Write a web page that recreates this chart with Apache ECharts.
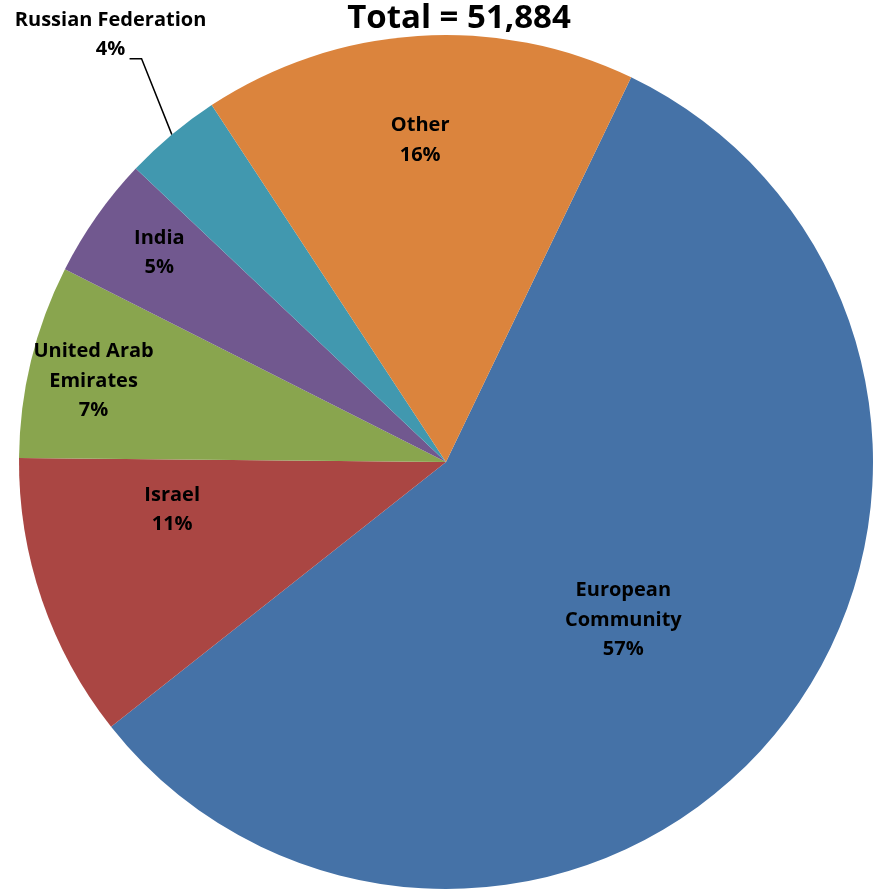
<!DOCTYPE html>
<html>
<head>
<meta charset="utf-8">
<script src="https://cdn.jsdelivr.net/npm/echarts@6/dist/echarts.min.js"></script>
<style>
html, body { margin: 0; padding: 0; background: #fff; }
#chart { width: 873px; height: 890px; }
</style>
</head>
<body>
<div id="chart"></div>
<script>
const categories = ['European\nCommunity', 'Israel', 'United Arab\nEmirates', 'India', 'Russian Federation', 'Other']
const values = [29684, 5600, 3790, 2390, 1920, 8500]
const total = 51884
const colors = ['#4572A7', '#AA4643', '#89A54E', '#71588F', '#4198AF', '#DB843D']
// where each label sits: fraction of radius, angle shift (deg) from slice middle
const labelSpots = [[0.556, 3], [0.651, 9], [0.847, -0.7], [0.831, 1], [1.272, 1.8], [0.756, -0.8]]

const cx = 446
const cy = 462
const r = 427
const startAngle = 64.3

const sum = values.reduce((a, b) => a + b, 0)
// middle angle of each slice, clockwise from 12 o'clock
let acc = 90 - startAngle
const midAngles = values.map(v => {
  const a = v / sum * 360
  const m = acc + a / 2
  acc += a
  return m
})

function polar(f, deg) {
  const t = deg * Math.PI / 180
  return [cx + f * r * Math.sin(t), cy - f * r * Math.cos(t)]
}

const outside = 4

let option = {
  animation: false,
  title: {
    text: 'Total = ' + total.toLocaleString('en-US'),
    left: 454,
    textAlign: 'center',
    top: -3,
    textStyle: {
      fontFamily: 'Open Sans',
      fontWeight: 'bold',
      fontSize: 33,
      color: '#000'
    }
  },
  series: [{
    type: 'pie',
    center: [cx, cy],
    radius: r,
    startAngle: startAngle,
    clockwise: true,
    silent: true,
    avoidLabelOverlap: false,
    itemStyle: { borderWidth: 0 },
    label: {
      position: 'inside',
      fontFamily: 'Open Sans',
      fontWeight: 'bold',
      fontSize: 20,
      lineHeight: 29.5,
      color: '#000',
      align: 'center',
      formatter: p => p.name + '\n' + Math.round(p.percent) + '%'
    },
    labelLine: { show: false },
    labelLayout: function (params) {
      const i = params.dataIndex
      const p = polar(labelSpots[i][0], midAngles[i] + labelSpots[i][1])
      const res = { x: p[0], y: p[1], align: 'center', verticalAlign: 'middle' }
      if (i === outside) {
        res.labelLinePoints = [polar(1, midAngles[i]), [p[0] + 31, p[1] + 24], [p[0] + 19, p[1] + 24]]
      }
      return res
    },
    data: categories.map((name, i) => ({
      name: name,
      value: values[i],
      itemStyle: { color: colors[i] },
      label: i === outside ? { position: 'outside' } : {},
      labelLine: i === outside ? { show: true, lineStyle: { color: '#000', width: 1.5 } } : { show: false }
    }))
  }]
}

let myChart = echarts.init(document.getElementById('chart'))
myChart.setOption(option)
</script>
</body>
</html>
